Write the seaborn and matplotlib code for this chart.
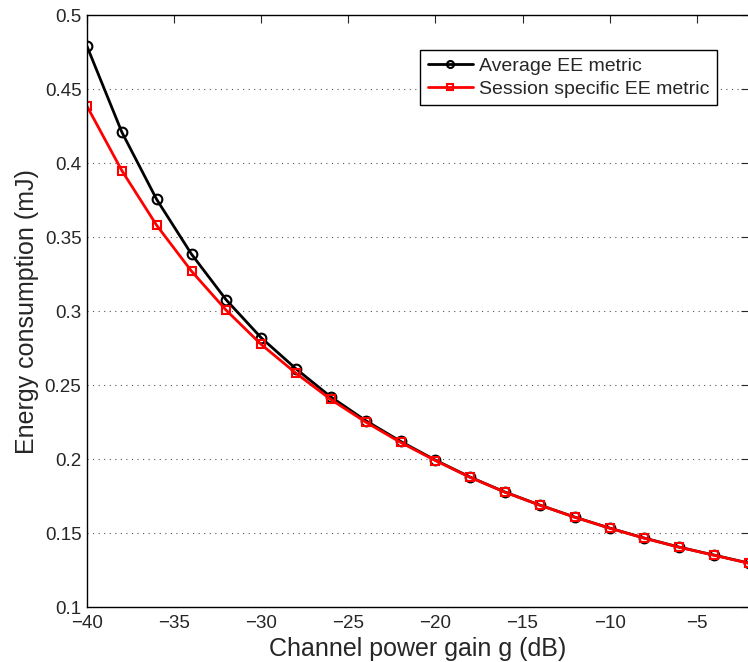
import numpy as np
import pandas as pd
import matplotlib
matplotlib.use("Agg")
import matplotlib.pyplot as plt
import seaborn as sns

gain_db = [-40, -38, -36, -34, -32, -30, -28, -26, -24, -22, -20, -18, -16, -14, -12, -10, -8, -6, -4, -2]
avg_ee = [0.479, 0.421, 0.3755, 0.3385, 0.3075, 0.282, 0.261, 0.242, 0.226, 0.212, 0.1993, 0.1878, 0.1777, 0.1689, 0.1608, 0.1534, 0.1466, 0.1405, 0.1351, 0.1297]
sess_ee = [0.4385, 0.3950, 0.3580, 0.3270, 0.3005, 0.2775, 0.258, 0.2403, 0.2250, 0.2113, 0.1990, 0.1876, 0.1776, 0.1688, 0.1607, 0.1533, 0.1465, 0.1404, 0.1350, 0.1296]
series_names = ["Average EE metric", "Session specific EE metric"]
xtick_vals = [-40, -35, -30, -25, -20, -15, -10, -5]
xtick_labels = ["\u221240", "\u221235", "\u221230", "\u221225", "\u221220", "\u221215", "\u221210", "\u22125"]
ytick_vals = [0.1, 0.15, 0.2, 0.25, 0.3, 0.35, 0.4, 0.45, 0.5]
ytick_labels = ["0.1", "0.15", "0.2", "0.25", "0.3", "0.35", "0.4", "0.45", "0.5"]

df = pd.DataFrame({
    "g": gain_db * 2,
    "E": avg_ee + sess_ee,
    "series": [series_names[0]] * len(gain_db) + [series_names[1]] * len(gain_db),
})

sns.set_style("white")
plt.rcParams["font.family"] = ["Liberation Sans", "DejaVu Sans"]
plt.rcParams["xtick.direction"] = "in"
plt.rcParams["ytick.direction"] = "in"

fig = plt.figure(figsize=(7.48, 6.62), dpi=100)
ax = fig.add_axes([0.1163, 0.083, 0.885, 0.894])

sns.lineplot(data=df, x="g", y="E", hue="series", style="series",
             palette={series_names[0]: "black", series_names[1]: "red"},
             markers={series_names[0]: "o", series_names[1]: "s"},
             dashes=False, linewidth=2, markersize=7, markerfacecolor="none",
             markeredgewidth=1.5, ax=ax)

for line in ax.get_lines():
    if line.get_marker() == "s":
        line.set_markersize(5.5)
        line.set_markeredgecolor("red")
    elif line.get_marker() == "o":
        line.set_markeredgecolor("black")

ax.set_xlim(-40, -2)
ax.set_ylim(0.1, 0.5)
ax.set_xticks(xtick_vals)
ax.set_xticklabels(xtick_labels)
ax.set_yticks(ytick_vals)
ax.set_yticklabels(ytick_labels)
ax.tick_params(axis="both", which="both", top=True, right=True, length=6, width=0.8, labelsize=13.5)
ax.tick_params(axis="x", pad=6)
ax.tick_params(axis="y", pad=4)
ax.yaxis.grid(True, linestyle=(0, (1, 4)), color="#555555", linewidth=0.8)
ax.xaxis.grid(False)
for sp in ax.spines.values():
    sp.set_linewidth(1.0)
    sp.set_color("black")

ax.set_xlabel("Channel power gain g (dB)", fontsize=18, labelpad=3)
ax.set_ylabel("Energy consumption (mJ)", fontsize=18, labelpad=4)

leg = ax.legend(loc="upper right", bbox_to_anchor=(0.966, 0.958), fontsize=14,
                frameon=True, fancybox=False, edgecolor="black", framealpha=1,
                handlelength=2.3, borderpad=0.4, labelspacing=0.25, handletextpad=0.3)
leg.get_frame().set_linewidth(1.0)
for h in leg.legend_handles:
    h.set_markerfacecolor("none")
    h.set_markersize(5)

fig.savefig("out.png", dpi=100)
